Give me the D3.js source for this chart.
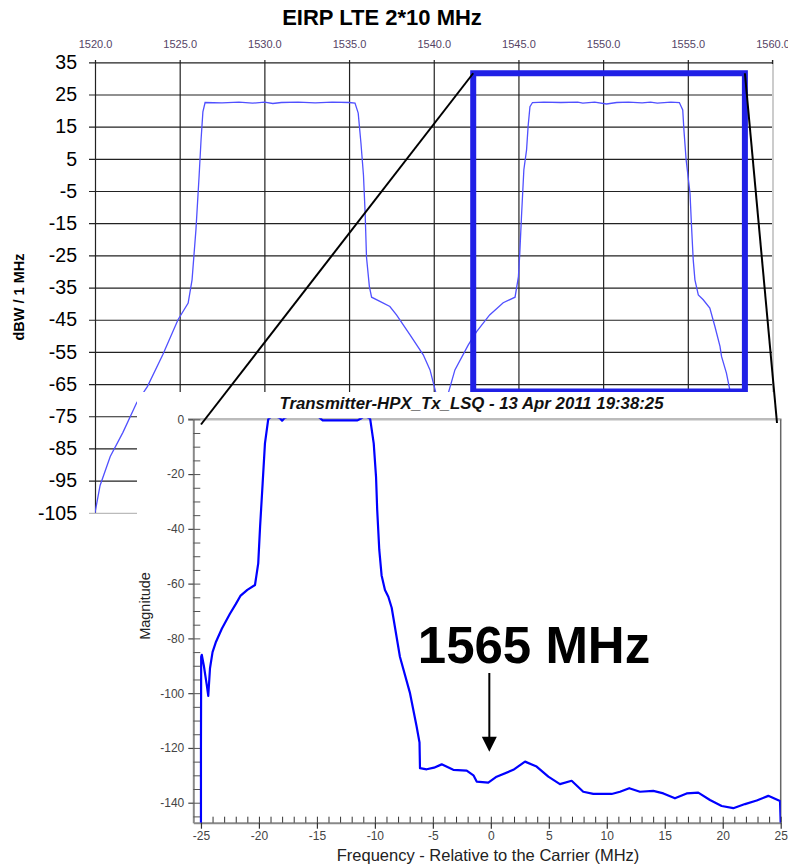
<!DOCTYPE html>
<html>
<head>
<meta charset="utf-8">
<script src="https://cdn.jsdelivr.net/npm/d3@7/dist/d3.min.js"></script>
<style>
body{margin:0;background:#fff;}
svg{display:block;font-family:"Liberation Sans",Arial,sans-serif;}
</style>
</head>
<body>
<svg id="chart" width="788" height="865"></svg>
<script>
// --- main chart (EIRP, two LTE carriers) ---
var mainTitle = "EIRP LTE 2*10 MHz";
var mainYLabel = "dBW / 1 MHz";
var mainXTicks = [1520, 1525, 1530, 1535, 1540, 1545, 1550, 1555, 1560];
var mainYTicks = [35, 25, 15, 5, -5, -15, -25, -35, -45, -55, -65, -75, -85, -95, -105];
var mainFreq = [1520.0, 1520.3, 1520.9, 1521.65, 1522.46, 1523.1, 1524.0, 1524.9, 1525.5, 1525.73,
    1525.96, 1526.15, 1526.26, 1526.37, 1526.5, 1527.5, 1528.5, 1529.3, 1530.0, 1530.5,
    1531.0, 1532.0, 1533.0, 1534.0, 1535.0, 1535.35, 1535.54, 1535.7, 1535.85, 1535.95,
    1536.03, 1536.2, 1536.33, 1536.82, 1537.41, 1537.8, 1538.6, 1539.38, 1539.78, 1540.13,
    1540.5, 1540.86, 1541.25, 1542.04, 1542.53, 1543.3, 1544.1, 1544.8, 1545.0, 1545.08,
    1545.18, 1545.32, 1545.48, 1545.57, 1545.68, 1545.83, 1546.5, 1547.5, 1548.5, 1548.8,
    1549.5, 1550.2, 1550.8, 1551.5, 1552.3, 1552.8, 1553.2, 1554.0, 1554.5, 1554.7,
    1554.77, 1554.9, 1555.13, 1555.22, 1555.32, 1555.42, 1555.62, 1555.91, 1556.3, 1556.6,
    1556.9, 1556.99, 1557.28, 1557.48, 1557.9, 1558.6];
var mainLevel = [-105, -96.5, -87.5, -80, -70.8, -65.7, -55.9, -45, -39.8, -32.6,
    -17, 0, 10.8, 19.6, 22.5, 22.4, 22.6, 22.3, 22.6, 22.2,
    22.5, 22.6, 22.4, 22.6, 22.5, 22.3, 19.2, 10, 0, -12,
    -25.6, -34.7, -38, -39.3, -40.9, -43.5, -49.7, -55.9, -60.6, -67.8,
    -78, -67.8, -60.6, -52.8, -48.7, -43.5, -39.7, -38, -31.6, -24.3,
    -12.9, 1.6, 7.8, 15, 21.2, 22.5, 22.6, 22.5, 22.6, 22.3,
    22.6, 22.05, 22.5, 22.6, 22.4, 22.6, 22.3, 22.6, 22.5, 20.2,
    14, 4.7, -5.7, -16, -26.4, -32.6, -37.3, -38.8, -41.4, -47.1,
    -53.3, -56.4, -61.6, -66.8, -76, -90];

// zoom window marked on the main chart
var zoomFreq = [1542.33, 1558.37];
var zoomLevel = [-67.3, 31.6];

// --- inset (measured spectrum around the upper carrier) ---
var insetTitle = "Transmitter-HPX_Tx_LSQ - 13 Apr 2011 19:38:25";
var insetXLabel = "Frequency - Relative to the Carrier (MHz)";
var insetYLabel = "Magnitude";
var insetXTicks = [-25, -20, -15, -10, -5, 0, 5, 10, 15, 20, 25];
var insetYTicks = [0, -20, -40, -60, -80, -100, -120, -140];
var insetFreq = [-25.0, -25.0, -24.98, -24.93, -24.75, -24.5, -24.37, -24.22, -24.0, -23.7,
    -23.2, -22.5, -22.0, -21.6, -21.0, -20.34, -20.06, -19.9, -19.68, -19.48,
    -19.2, -18.8, -18.2, -18.0, -17.8, -17.2, -15.0, -14.7, -14.5, -11.5,
    -11.2, -10.9, -10.5, -10.4, -10.1, -9.9, -9.8, -9.62, -9.42, -9.13,
    -8.84, -8.55, -7.84, -6.97, -6.4, -6.15, -6.11, -5.53, -4.9, -4.24,
    -3.24, -2.08, -1.5, -1.22, -0.22, 0.5, 1.94, 2.95, 3.95, 4.96,
    5.96, 6.97, 7.97, 8.84, 10.42, 11.14, 11.94, 12.86, 14.01, 14.88,
    15.88, 16.89, 17.89, 18.9, 19.91, 20.91, 21.92, 22.93, 23.93, 24.94, 25.0];
var insetLevel = [-147.3, -120, -86.7, -86, -90, -97, -101, -90.9, -85, -81.2,
    -76.5, -71, -67.5, -64.5, -62.3, -60.5, -52.6, -39.2, -23.4, -8.8,
    0, 1.5, 0.5, -0.5, 0.5, 1.5, 1.5, 0.3, -0.4, -0.4,
    0.3, 1.2, 0.5, 0, -8.8, -21, -33, -47.7, -57, -62.3,
    -64.8, -68.8, -86.7, -100, -112.2, -118, -127.4, -127.8, -127.2, -126,
    -128, -128.3, -130, -132.3, -132.7, -130.5, -128, -125, -126.8, -130.5,
    -133.2, -132, -136, -136.8, -136.8, -136, -134.7, -136, -135.7, -136.6,
    -138.4, -136.6, -136.3, -139, -141.2, -142, -140.5, -139.2, -137.5, -139.4, -147.3];
var markText = "1565 MHz";
var markFreq = 0;

var svg = d3.select("#chart");
var plain = function(d){ return String(d); };// ハイフンのまま（d3.formatだと−になる）

//////// main chart ////////
var x = d3.scaleLinear().domain([1520, 1560]).range([95, 772.5]);
var y = d3.scaleLinear().domain([-105, 35]).range([512.8, 62.3]);

svg.append("text").attr("x", 382).attr("y", 25).attr("text-anchor", "middle")
    .attr("font-size", "22px").attr("font-weight", "bold").text(mainTitle);

// horizontal grid + left labels
var gy = svg.append("g").attr("transform", "translate(89,0)")
    .call(d3.axisLeft(y).tickValues(mainYTicks).tickSize(-(772.5 - 89)).tickPadding(12).tickFormat(plain));
gy.select(".domain").remove();
gy.selectAll("line").attr("stroke", function(d){ return d == -105 ? "#bbb" : "#222"; }).attr("stroke-width", 1.2);
gy.selectAll("text").attr("font-size", "19.5px").attr("fill", "#000").attr("font-family", "Liberation Sans, Arial, sans-serif");

// vertical grid + top labels
var gx = svg.append("g").attr("transform", "translate(0,60)")
    .call(d3.axisTop(x).tickValues(mainXTicks).tickSize(-(512.8 - 60)).tickPadding(12.5).tickFormat(d3.format(".1f")));
gx.select(".domain").remove();
gx.selectAll("line").attr("stroke", function(d){ return d == 1560 ? "#ccc" : "#222"; })
    .attr("stroke-width", function(d){ return d == 1560 ? 2 : 1.2; });
gx.selectAll("text").attr("font-size", "11px").attr("fill", "#554466").attr("font-family", "Liberation Sans, Arial, sans-serif");
// little black tick on top of the light right border
svg.append("line").attr("x1", x(1560)).attr("x2", x(1560)).attr("y1", 60).attr("y2", 64).attr("stroke", "#222").attr("stroke-width", 1.2);

svg.append("text").attr("transform", "translate(24,297) rotate(-90)").attr("text-anchor", "middle")
    .attr("font-size", "14.5px").attr("font-weight", "bold").text(mainYLabel);

svg.append("clipPath").attr("id", "mainClip").append("rect")
    .attr("x", 95).attr("y", 60).attr("width", 772.5 - 95).attr("height", 513 - 60);

var mainLine = d3.line().x(function(d){ return x(d[0]); }).y(function(d){ return y(d[1]); });
svg.append("path").datum(d3.zip(mainFreq, mainLevel))
    .attr("clip-path", "url(#mainClip)")
    .attr("d", mainLine).attr("fill", "none").attr("stroke", "#5050ff").attr("stroke-width", 1.3);

// zoom window
svg.append("rect")
    .attr("x", x(zoomFreq[0])).attr("y", y(zoomLevel[1]))
    .attr("width", x(zoomFreq[1]) - x(zoomFreq[0])).attr("height", y(zoomLevel[0]) - y(zoomLevel[1]))
    .attr("fill", "none").attr("stroke", "#2020e6").attr("stroke-width", 6);

//////// inset ////////
var xi = d3.scaleLinear().domain([-25.66, 25]).range([193.3, 780.7]);
var yi = d3.scaleLinear().domain([-147.3, 0]).range([822.7, 419.3]);

// white panel covers the bottom of the main chart
svg.append("rect").attr("x", 137).attr("y", 392).attr("width", 651).attr("height", 473).attr("fill", "#fff");

svg.append("text").attr("x", 471.5).attr("y", 408.5).attr("text-anchor", "middle")
    .attr("font-size", "16.8px").attr("font-weight", "bold").attr("font-style", "italic").attr("fill", "#111")
    .text(insetTitle);

// frame
svg.append("line").attr("x1", 188).attr("x2", 781.5).attr("y1", 419.3).attr("y2", 419.3).attr("stroke", "#bbb").attr("stroke-width", 2.5);
svg.append("line").attr("x1", 780.7).attr("x2", 780.7).attr("y1", 419.3).attr("y2", 822.7).attr("stroke", "#666").attr("stroke-width", 1.5);

// y axis: minor every 5, labelled every 20
var yMinor = svg.append("g").attr("transform", "translate(193.3,0)")
    .call(d3.axisLeft(yi).tickValues(d3.range(0, -146, -5)).tickSize(-7).tickSizeOuter(0).tickFormat(""));
yMinor.select(".domain").attr("stroke", "#888").attr("stroke-width", 2);
yMinor.selectAll("line").attr("stroke", "#555");
var yMajor = svg.append("g").attr("transform", "translate(193.3,0)")
    .call(d3.axisLeft(yi).tickValues(insetYTicks).tickSize(5).tickSizeOuter(0).tickPadding(4).tickFormat(plain));
yMajor.select(".domain").remove();
yMajor.selectAll("line").attr("stroke", "#444").attr("stroke-width", 1.2);
yMajor.selectAll("text").attr("font-size", "12px").attr("fill", "#444").attr("font-family", "Liberation Sans, Arial, sans-serif");

// x axis: minor every 1 MHz, labelled every 5
var xMinor = svg.append("g").attr("transform", "translate(0,822.7)")
    .call(d3.axisBottom(xi).tickValues(d3.range(-25, 26, 1)).tickSize(-6).tickSizeOuter(0).tickFormat(""));
xMinor.select(".domain").attr("stroke", "#888").attr("stroke-width", 2);
xMinor.selectAll("line").attr("stroke", "#333");
var xMajor = svg.append("g").attr("transform", "translate(0,822.7)")
    .call(d3.axisBottom(xi).tickValues(insetXTicks).tickSize(6).tickSizeOuter(0).tickPadding(3).tickFormat(plain));
xMajor.select(".domain").remove();
xMajor.selectAll("line").attr("stroke", "#333").attr("stroke-width", 1.2);
xMajor.selectAll("text").attr("font-size", "12px").attr("fill", "#444").attr("font-family", "Liberation Sans, Arial, sans-serif");

svg.append("text").attr("x", 488).attr("y", 861).attr("text-anchor", "middle")
    .attr("font-size", "16.5px").attr("fill", "#222").text(insetXLabel);
svg.append("text").attr("transform", "translate(150,606) rotate(-90)").attr("text-anchor", "middle")
    .attr("font-size", "14.5px").attr("fill", "#222").text(insetYLabel);

svg.append("clipPath").attr("id", "insetClip").append("rect")
    .attr("x", 193.3).attr("y", 418.2).attr("width", 780.7 - 193.3).attr("height", 822.7 - 418.2);

var insetLine = d3.line().x(function(d){ return xi(d[0]); }).y(function(d){ return yi(d[1]); });
svg.append("path").datum(d3.zip(insetFreq, insetLevel))
    .attr("clip-path", "url(#insetClip)")
    .attr("d", insetLine).attr("fill", "none").attr("stroke", "#0000ff").attr("stroke-width", 2.2)
    .attr("stroke-linejoin", "round");

// connector lines zoom window -> inset
svg.append("line").attr("x1", x(zoomFreq[0])).attr("y1", y(zoomLevel[1]))
    .attr("x2", 201).attr("y2", 424.5).attr("stroke", "#000").attr("stroke-width", 2);
svg.append("line").attr("x1", x(zoomFreq[1])).attr("y1", y(zoomLevel[1]))
    .attr("x2", 777).attr("y2", 423).attr("stroke", "#000").attr("stroke-width", 2);

// 1565 MHz marker
svg.append("text").attr("x", 534).attr("y", 662.5).attr("text-anchor", "middle")
    .attr("font-size", "51px").attr("font-weight", "bold").text(markText);
var ax = xi(markFreq) - 1.5;
svg.append("line").attr("x1", ax).attr("x2", ax).attr("y1", 673).attr("y2", 738).attr("stroke", "#000").attr("stroke-width", 2);
svg.append("path").attr("d", "M" + (ax - 7.5) + ",736.7L" + (ax + 7.5) + ",736.7L" + ax + ",751.7Z").attr("fill", "#000");
</script>
</body>
</html>
